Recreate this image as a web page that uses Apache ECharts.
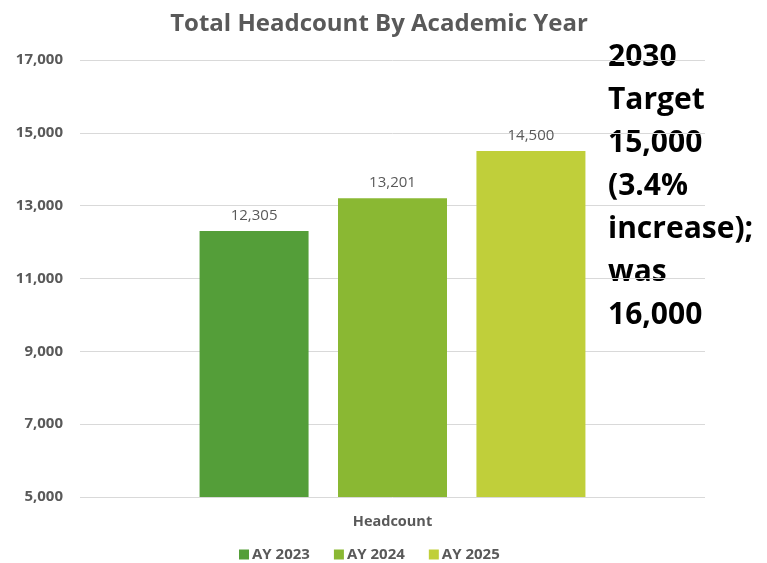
<!DOCTYPE html>
<html>
<head>
<meta charset="utf-8">
<script src="https://cdn.jsdelivr.net/npm/echarts@6/dist/echarts.min.js"></script>
<style>html,body{margin:0;padding:0;background:#fff;}#c{width:767px;height:563px;}</style>
</head>
<body>
<div id="c"></div>
<script>
const categories = ['Headcount'];
const seriesNames = ['AY 2023', 'AY 2024', 'AY 2025'];
const ay2023 = [12305];
const ay2024 = [13201];
const ay2025 = [14500];
const colors = ['#549E39', '#8AB833', '#C0CF3A'];
const annotationLines = ['2030', 'Target', '15,000', '(3.4%', 'increase);', 'was', '16,000'];

const font = '"Open Sans", "Noto Sans", sans-serif';
const values = [ay2023, ay2024, ay2025];
const chart = echarts.init(document.getElementById('c'));
chart.setOption({
  animation: false,
  textStyle: { fontFamily: font },
  title: {
    text: 'Total Headcount By Academic Year',
    left: 374, top: 7, textAlign: 'center',
    textStyle: { fontFamily: font, fontSize: 24, fontWeight: 'bold', color: '#595959' }
  },
  legend: {
    top: 542, left: 234, itemWidth: 10, itemHeight: 10, itemGap: 24,
    icon: 'rect',
    textStyle: { fontFamily: font, fontSize: 15, fontWeight: 'bold', color: '#595959', padding: [0, 0, 0, -2] },
    data: seriesNames
  },
  grid: { left: 80, right: 62, top: 60, bottom: 66, containLabel: false },
  xAxis: {
    type: 'category', data: categories,
    axisLine: { show: false }, axisTick: { show: false },
    axisLabel: { fontFamily: font, fontSize: 14.5, fontWeight: 'bold', color: '#595959', margin: 17 }
  },
  yAxis: {
    type: 'value', min: 5000, max: 17000, interval: 2000,
    axisLine: { show: false }, axisTick: { show: false },
    splitLine: { lineStyle: { color: '#D9D9D9', width: 1 } },
    axisLabel: {
      fontFamily: font, fontSize: 15, fontWeight: 'bold', color: '#595959', margin: 17,
      formatter: v => v.toLocaleString('en-US')
    }
  },
  series: seriesNames.map((n, i) => ({
    name: n, type: 'bar', data: values[i], barWidth: 109, barGap: '27%',
    itemStyle: { color: colors[i] },
    label: {
      show: true, position: 'top', distance: 8, fontFamily: font, fontSize: 15, color: '#595959',
      formatter: p => p.value.toLocaleString('en-US')
    }
  })),
  graphic: [{
    type: 'text', left: 608, top: 36,
    style: {
      text: annotationLines.join('\n'),
      fontFamily: font, fontSize: 30, fontWeight: 'bold', fill: '#000', lineHeight: 43
    }
  }]
});
</script>
</body>
</html>
